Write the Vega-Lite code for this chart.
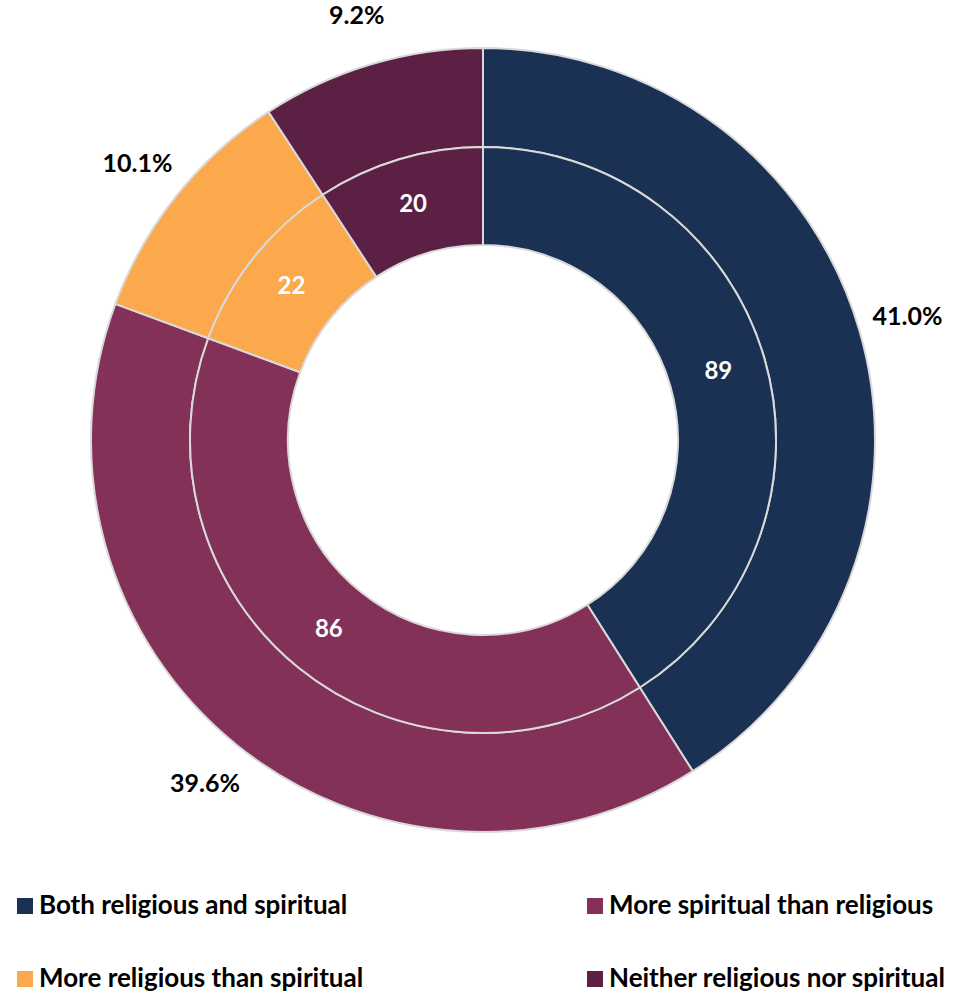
{
  "$schema": "https://vega.github.io/schema/vega-lite/v6.json",
  "width": 942,
  "height": 880,
  "padding": {"left": 12, "top": 0, "right": 0, "bottom": 0},
  "background": "white",
  "config": {"view": {"stroke": null}, "font": "Lato"},
  "data": {
    "values": [
      {"cat": "Both religious and spiritual", "count": 89, "pct": 0.410, "idx": 1},
      {"cat": "More spiritual than religious", "count": 86, "pct": 0.396, "idx": 2},
      {"cat": "More religious than spiritual", "count": 22, "pct": 0.101, "idx": 3},
      {"cat": "Neither religious nor spiritual", "count": 20, "pct": 0.092, "idx": 4}
    ]
  },
  "encoding": {
    "theta": {"field": "count", "type": "quantitative", "stack": true},
    "order": {"field": "idx", "type": "quantitative"}
  },
  "layer": [
    {
      "mark": {"type": "arc", "outerRadius": 392, "innerRadius": 293, "stroke": "#D9D9D9", "strokeWidth": 2},
      "encoding": {
        "color": {
          "field": "cat", "type": "nominal",
          "scale": {
            "domain": ["Both religious and spiritual", "More religious than spiritual", "More spiritual than religious", "Neither religious nor spiritual"],
            "range": ["#1B3153", "#FBA94C", "#84315A", "#5C2045"]
          },
          "legend": {
            "title": null,
            "orient": "none",
            "legendX": 0,
            "legendY": 893,
            "columns": 2,
            "gridAlign": "all",
            "columnPadding": 205,
            "rowPadding": 47,
            "symbolType": "square",
            "symbolSize": 256,
            "symbolStrokeWidth": 0,
            "labelFont": "Lato",
            "labelFontSize": 26,
            "labelFontWeight": "bold",
            "labelColor": "#000000",
            "labelOffset": 1,
            "labelLimit": 500
          }
        }
      }
    },
    {
      "mark": {"type": "arc", "outerRadius": 293, "innerRadius": 195, "stroke": "#D9D9D9", "strokeWidth": 2},
      "encoding": {
        "color": {"field": "cat", "type": "nominal"}
      }
    },
    {
      "mark": {"type": "text", "radius": 442, "font": "Lato", "fontSize": 25, "fontWeight": "bold", "fill": "#000000"},
      "encoding": {
        "detail": {"field": "cat", "type": "nominal"},
        "text": {"field": "pct", "type": "quantitative", "format": ".1%"}
      }
    },
    {
      "mark": {"type": "text", "radius": 245, "font": "Lato", "fontSize": 24, "fontWeight": "bold", "fill": "#FFFFFF"},
      "encoding": {
        "detail": {"field": "cat", "type": "nominal"},
        "text": {"field": "count", "type": "quantitative"}
      }
    }
  ]
}
